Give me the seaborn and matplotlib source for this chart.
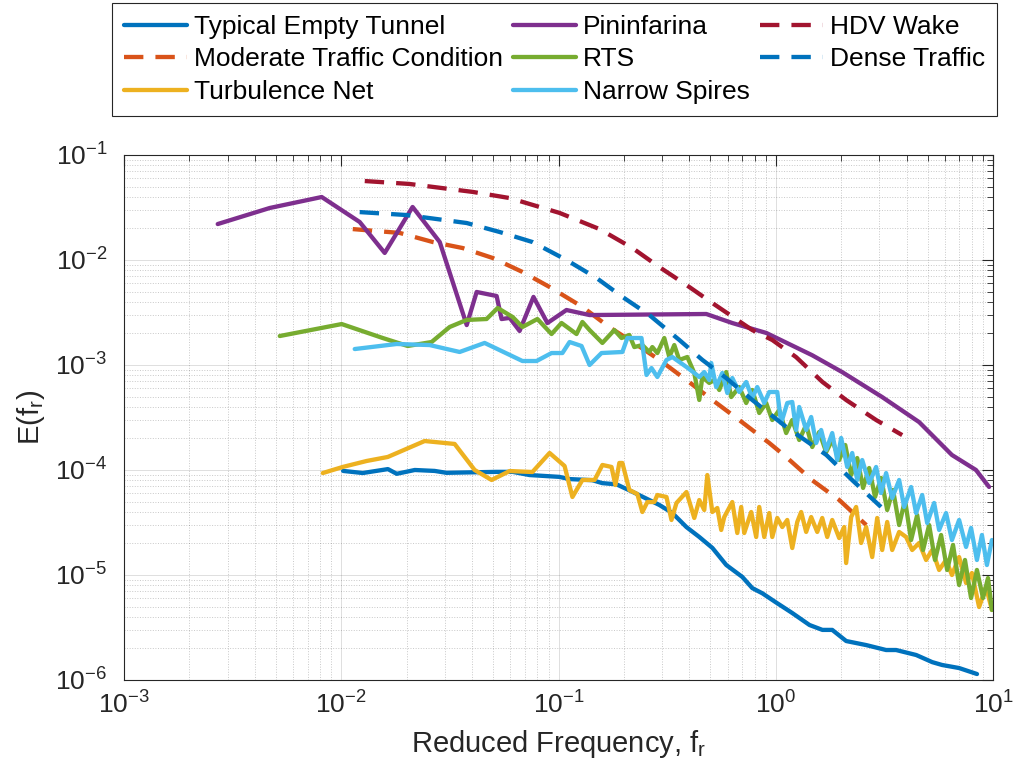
import numpy as np
import pandas as pd
import matplotlib
matplotlib.use("Agg")
import matplotlib.pyplot as plt
import seaborn as sns
from matplotlib.ticker import LogLocator, NullFormatter

# ---------------- data ----------------
series_names = ["Typical Empty Tunnel", "Moderate Traffic Condition", "Turbulence Net",
                "Pininfarina", "RTS", "Narrow Spires", "HDV Wake", "Dense Traffic"]

empty_f = [0.0102, 0.01256, 0.0164, 0.0180, 0.0218, 0.0269, 0.0305, 0.0519, 0.0615, 0.0736,
           0.101, 0.112, 0.143, 0.159, 0.185, 0.219, 0.291, 0.334, 0.388, 0.445,
           0.511, 0.592, 0.701, 0.780, 0.867, 1.0, 1.19, 1.43, 1.64, 1.82,
           2.11, 2.61, 3.22, 3.58, 4.43, 5.25, 5.83, 6.98, 8.44]
empty_E = [9.8e-5, 9.36e-5, 1.02e-4, 9.2e-5, 1.0e-4, 9.8e-5, 9.4e-5, 9.6e-5, 9.6e-5, 8.95e-5,
           8.6e-5, 8.2e-5, 8.0e-5, 7.5e-5, 7.3e-5, 6.2e-5, 4.65e-5, 3.9e-5, 2.86e-5, 2.3e-5,
           1.81e-5, 1.245e-5, 9.6e-6, 7.5e-6, 6.7e-6, 5.5e-6, 4.35e-6, 3.34e-6, 3.0e-6, 3.0e-6,
           2.35e-6, 2.15e-6, 1.93e-6, 1.93e-6, 1.73e-6, 1.48e-6, 1.39e-6, 1.3e-6, 1.14e-6]

moderate_f = [0.0113, 0.0186, 0.0264, 0.0362, 0.0498, 0.0683, 0.091, 0.129, 0.171, 0.219,
              0.291, 0.388, 0.511, 0.679, 0.933, 1.117, 1.47, 1.96, 2.61]
moderate_E = [0.0197, 0.0181, 0.01483, 0.0130, 0.01045, 0.00769, 0.00553, 0.00357, 0.0023, 0.00166,
              0.00112, 7.2e-4, 4.64e-4, 2.99e-4, 1.81e-4, 1.33e-4, 8.0e-5, 5.18e-5, 2.99e-5]

# noisy spectra: values given as log10(f_r) and log10(E)
turb_logf = [-2.085, -1.993, -1.883, -1.786, -1.616, -1.478, -1.386, -1.308, -1.225, -1.120,
             -1.041, -0.972, -0.936, -0.890, -0.834, -0.798, -0.756, -0.738, -0.720, -0.706,
             -0.674, -0.637, -0.614, -0.591, -0.559, -0.545, -0.503, -0.480, -0.457, -0.411,
             -0.375, -0.352, -0.329, -0.315, -0.292, -0.269, -0.251, -0.237, -0.200, -0.177,
             -0.159, -0.145, -0.113, -0.090, -0.076, -0.053, -0.030, -0.016, 0.007, 0.030,
             0.053, 0.076, 0.099, 0.117, 0.140, 0.163, 0.191, 0.214, 0.237, 0.260,
             0.292, 0.315, 0.324, 0.347, 0.370, 0.393, 0.416, 0.444, 0.467, 0.490,
             0.513, 0.536, 0.568, 0.600, 0.628, 0.660, 0.692, 0.720, 0.752, 0.784,
             0.811, 0.844, 0.876, 0.903, 0.936, 0.968, 0.995]
turb_logE = [-4.029, -3.971, -3.914, -3.876, -3.724, -3.752, -4.000, -4.095, -4.010, -4.019,
             -3.838, -3.962, -4.257, -4.095, -4.095, -3.952, -3.971, -4.143, -3.933, -3.933,
             -4.190, -4.229, -4.400, -4.305, -4.305, -4.238, -4.257, -4.476, -4.314, -4.210,
             -4.457, -4.286, -4.381, -4.048, -4.400, -4.362, -4.571, -4.448, -4.305, -4.600,
             -4.352, -4.600, -4.400, -4.638, -4.352, -4.638, -4.410, -4.638, -4.457, -4.543,
             -4.476, -4.743, -4.495, -4.400, -4.590, -4.448, -4.590, -4.457, -4.638, -4.476,
             -4.648, -4.543, -4.886, -4.448, -4.352, -4.695, -4.543, -4.829, -4.457, -4.762,
             -4.495, -4.762, -4.590, -4.638, -4.762, -4.695, -4.857, -4.762, -4.952, -4.857,
             -5.000, -4.829, -5.076, -4.981, -5.305, -5.114, -5.333]

pinin_f = [0.0027, 0.00469, 0.00813, 0.01216, 0.01585, 0.0213, 0.0284, 0.0378, 0.0420, 0.0519,
           0.0547, 0.0596, 0.0662, 0.0767, 0.0889, 0.1088, 0.139, 0.479, 0.631, 0.904,
           1.47, 2.02, 3.09, 4.57, 6.47, 8.35, 9.59]
pinin_E = [0.0220, 0.0313, 0.0398, 0.0230, 0.01167, 0.0320, 0.01483, 0.0024, 0.00496, 0.00454,
           0.00274, 0.00281, 0.00211, 0.00445, 0.00251, 0.00334, 0.00299, 0.00306, 0.00251, 0.00202,
           0.00124, 8.57e-4, 4.95e-4, 2.86e-4, 1.39e-4, 1.0e-4, 6.9e-5]

rts_logf = [-2.283, -1.998, -1.809, -1.694, -1.584, -1.501, -1.423, -1.331, -1.280, -1.211,
            -1.166, -1.097, -1.032, -0.986, -0.917, -0.890, -0.857, -0.798, -0.743, -0.710,
            -0.674, -0.651, -0.614, -0.582, -0.568, -0.545, -0.513, -0.490, -0.467, -0.444,
            -0.407, -0.375, -0.352, -0.338, -0.306, -0.283, -0.260, -0.228, -0.205, -0.168,
            -0.136, -0.108, -0.076, -0.044, -0.016, 0.016, 0.048, 0.076, 0.108, 0.140,
            0.168, 0.200, 0.232, 0.260, 0.292, 0.320, 0.347, 0.375, 0.402, 0.430,
            0.457, 0.485, 0.513, 0.540, 0.568, 0.595, 0.623, 0.651, 0.678, 0.706,
            0.733, 0.761, 0.789, 0.816, 0.844, 0.871, 0.899, 0.926, 0.954, 0.977,
            0.995]
rts_logE = [-2.724, -2.610, -2.743, -2.819, -2.781, -2.638, -2.571, -2.562, -2.457, -2.543,
            -2.638, -2.562, -2.705, -2.600, -2.705, -2.590, -2.667, -2.790, -2.667, -2.743,
            -2.714, -2.829, -2.810, -2.876, -2.829, -2.886, -2.743, -2.924, -2.810, -2.952,
            -2.924, -3.076, -3.333, -3.114, -3.171, -3.143, -3.238, -3.067, -3.305, -3.210,
            -3.362, -3.238, -3.457, -3.362, -3.524, -3.429, -3.648, -3.524, -3.714, -3.571,
            -3.781, -3.638, -3.829, -3.714, -3.905, -3.762, -4.048, -3.886, -4.171, -3.981,
            -4.257, -4.076, -4.381, -4.190, -4.524, -4.286, -4.667, -4.429, -4.762, -4.524,
            -4.857, -4.619, -4.952, -4.714, -5.095, -4.857, -5.219, -4.952, -5.219, -5.029,
            -5.333]

spires_logf = [-1.938, -1.745, -1.593, -1.455, -1.340, -1.166, -1.101, -1.032, -0.982, -0.949,
               -0.894, -0.857, -0.802, -0.706, -0.683, -0.618, -0.595, -0.572, -0.545, -0.503,
               -0.476, -0.411, -0.375, -0.352, -0.329, -0.306, -0.297, -0.274, -0.246, -0.223,
               -0.200, -0.168, -0.136, -0.108, -0.085, -0.053, -0.030, 0.007, 0.025, 0.053,
               0.076, 0.094, 0.108, 0.140, 0.163, 0.186, 0.209, 0.232, 0.260, 0.283,
               0.301, 0.329, 0.352, 0.375, 0.398, 0.430, 0.462, 0.485, 0.508, 0.536,
               0.568, 0.591, 0.623, 0.646, 0.674, 0.697, 0.729, 0.752, 0.784, 0.811,
               0.844, 0.876, 0.899, 0.926, 0.949, 0.972, 0.995]
spires_logE = [-2.848, -2.800, -2.810, -2.876, -2.790, -2.962, -2.962, -2.886, -2.886, -2.781,
               -2.819, -3.000, -2.886, -2.876, -2.743, -2.743, -3.095, -3.029, -3.114, -2.952,
               -2.924, -3.019, -3.076, -3.114, -3.067, -3.143, -2.981, -3.210, -3.076, -3.267,
               -3.124, -3.257, -3.162, -3.314, -3.210, -3.362, -3.257, -3.257, -3.552, -3.362,
               -3.352, -3.619, -3.400, -3.619, -3.495, -3.743, -3.619, -3.810, -3.648, -3.905,
               -3.695, -3.971, -3.838, -4.095, -3.905, -4.124, -3.971, -4.219, -4.029, -4.267,
               -4.095, -4.352, -4.162, -4.410, -4.238, -4.505, -4.314, -4.571, -4.410, -4.667,
               -4.476, -4.733, -4.552, -4.857, -4.619, -4.905, -4.667]

hdv_f = [0.01283, 0.0206, 0.0403, 0.0596, 0.101, 0.1545, 0.219, 0.291, 0.388, 0.511,
         0.780, 0.964, 1.24, 1.64, 2.11, 2.90, 3.82]
hdv_E = [0.0565, 0.0530, 0.0445, 0.0389, 0.0281, 0.0197, 0.0130, 0.00857, 0.00578, 0.00389,
         0.00215, 0.00173, 0.00119, 6.9e-4, 4.64e-4, 2.99e-4, 2.15e-4]

dense_f = [0.01216, 0.0200, 0.0378, 0.0535, 0.0759, 0.1088, 0.1496, 0.197, 0.262, 0.360,
           0.459, 0.592, 0.780, 1.117, 1.71, 2.25, 3.05]
dense_E = [0.0286, 0.0268, 0.0225, 0.0185, 0.01483, 0.0100, 0.00674, 0.00445, 0.00299, 0.00173,
           0.00112, 7.5e-4, 4.64e-4, 2.57e-4, 1.39e-4, 8.0e-5, 4.45e-5]

x_limits = (1e-3, 1e1)
y_limits = (1e-6, 1e-1)

# ---------------- styling ----------------
sns.set_theme(style="white")
plt.rcParams["font.family"] = ["Liberation Sans", "DejaVu Sans"]
plt.rcParams["mathtext.fontset"] = "custom"
plt.rcParams["mathtext.rm"] = "Liberation Sans"
plt.rcParams["mathtext.it"] = "Liberation Sans:italic"
plt.rcParams["mathtext.bf"] = "Liberation Sans:bold"

colors = {
    "Typical Empty Tunnel": "#0072BD",
    "Moderate Traffic Condition": "#D95319",
    "Turbulence Net": "#EDB120",
    "Pininfarina": "#7E2F8E",
    "RTS": "#77AC30",
    "Narrow Spires": "#4DBEEE",
    "HDV Wake": "#A2142F",
    "Dense Traffic": "#0072BD",
}
dashed = {"Moderate Traffic Condition", "HDV Wake", "Dense Traffic"}

data = {
    "Typical Empty Tunnel": (np.array(empty_f), np.array(empty_E)),
    "Moderate Traffic Condition": (np.array(moderate_f), np.array(moderate_E)),
    "Turbulence Net": (10.0 ** np.array(turb_logf), 10.0 ** np.array(turb_logE)),
    "Pininfarina": (np.array(pinin_f), np.array(pinin_E)),
    "RTS": (10.0 ** np.array(rts_logf), 10.0 ** np.array(rts_logE)),
    "Narrow Spires": (10.0 ** np.array(spires_logf), 10.0 ** np.array(spires_logE)),
    "HDV Wake": (np.array(hdv_f), np.array(hdv_E)),
    "Dense Traffic": (np.array(dense_f), np.array(dense_E)),
}

W, H = 1019, 782
fig = plt.figure(figsize=(W / 100, H / 100), dpi=100)
ax = fig.add_axes([124 / W, 1 - 680 / H, (993 - 124) / W, (680 - 155) / H])
ax.set_xscale("log")
ax.set_yscale("log")

for name in series_names:
    f, E = data[name]
    df = pd.DataFrame({"f": f, "E": E})
    ls = (0, (4.5, 2.8)) if name in dashed else "-"
    sns.lineplot(data=df, x="f", y="E", ax=ax, color=colors[name], linewidth=3.1,
                 linestyle=ls, label=name, estimator=None, sort=False)

ax.set_xlim(*x_limits)
ax.set_ylim(*y_limits)

# MATLAB-like axes
axcol = "#262626"
for sp in ax.spines.values():
    sp.set_color(axcol)
    sp.set_linewidth(0.8)
for axis in (ax.xaxis, ax.yaxis):
    axis.set_major_locator(LogLocator(base=10, numticks=20))
    axis.set_minor_locator(LogLocator(base=10, subs=np.arange(2, 10), numticks=20))
    axis.set_minor_formatter(NullFormatter())
ax.tick_params(which="both", direction="in", top=True, right=True, colors=axcol,
               labelcolor=axcol)
ax.tick_params(which="major", length=8, width=0.8, labelsize=19)
ax.tick_params(axis="x", which="major", pad=8)
ax.tick_params(axis="y", which="major", pad=12)
ax.tick_params(which="minor", length=4, width=0.6)
ax.grid(True, which="major", color=axcol, alpha=0.15, linewidth=0.7, linestyle="-")
ax.grid(True, which="minor", color=axcol, alpha=0.25, linewidth=0.7, linestyle=":")
ax.set_axisbelow(True)

ax.set_xlabel("Reduced Frequency, $\\mathregular{f_r}$", fontsize=21, color=axcol, labelpad=7)
ax.set_ylabel("$\\mathregular{E(f_r)}$", fontsize=21, color=axcol, labelpad=6)

handles, labels = ax.get_legend_handles_labels()
if ax.get_legend() is not None:
    ax.get_legend().remove()
leg = fig.legend(handles, labels, loc="upper left", ncol=3, mode="expand",
                 bbox_to_anchor=(112 / W, 1 - 118 / H, 885 / W, 115 / H),
                 frameon=True, fancybox=False,
                 edgecolor=axcol, framealpha=1, fontsize=19, handlelength=2.4,
                 handletextpad=0.25, columnspacing=0.4, borderpad=0.45,
                 labelspacing=0.32, borderaxespad=0)
leg.get_frame().set_linewidth(0.8)
for t in leg.get_texts():
    t.set_color("black")

fig.savefig("out.png", dpi=100)
